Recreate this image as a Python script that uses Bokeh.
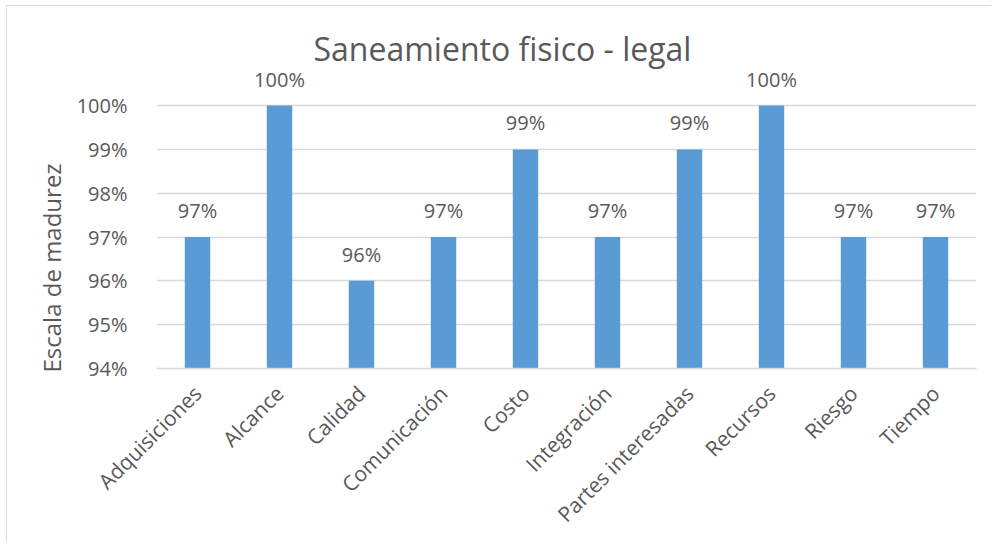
import math
from bokeh.plotting import figure
from bokeh.models import ColumnDataSource, FixedTicker, NumeralTickFormatter, Range1d, Title
from bokeh.core.properties import value
from bokeh.embed import file_html
from bokeh.resources import INLINE

categories = ["Adquisiciones", "Alcance", "Calidad", "Comunicación", "Costo",
              "Integración", "Partes interesadas", "Recursos", "Riesgo", "Tiempo"]
values = [0.97, 1.00, 0.96, 0.97, 0.99, 0.97, 0.99, 1.00, 0.97, 0.97]
y_ticks = [0.94, 0.95, 0.96, 0.97, 0.98, 0.99, 1.00]
title_text = "Saneamiento fisico - legal"
y_label = "Escala de madurez"

FONT = "Open Sans"
TXT = "#595959"
GRID = "#D9D9D9"
BAR = "#5B9BD5"

src = ColumnDataSource(dict(cat=categories, val=values,
                            lbl=[f"{v:.0%}" for v in values]))

p = figure(x_range=categories, y_range=Range1d(0.94, 1.008),
           width=985, height=537, output_backend="svg", toolbar_location=None,
           min_border_left=149, min_border_right=16, min_border_top=64, min_border_bottom=175)
p.title = None
p.add_layout(Title(text=title_text, align="left", offset=157, text_font=FONT,
                   text_font_size="32px", text_color=TXT, text_font_style="normal",
                   standoff=2), "above")
p.styles = {"border-top": "1px solid #D9D9D9", "border-left": "1px solid #D9D9D9",
            "margin-left": "6px", "margin-top": "5px"}
p.outline_line_color = None

p.vbar(x="cat", top="val", bottom=0.94, width=0.31, source=src, color=BAR, line_color=None)
p.text(x="cat", y="val", text="lbl", source=src, text_align="center", text_baseline="bottom",
       y_offset=-13, text_font=value(FONT), text_font_size="20px", text_color=TXT)

p.yaxis.ticker = FixedTicker(ticks=y_ticks)
p.yaxis.formatter = NumeralTickFormatter(format="0%")
p.yaxis.axis_line_color = None
p.yaxis.major_tick_line_color = None
p.yaxis.minor_tick_line_color = None
p.yaxis.major_label_standoff = 23
p.yaxis.major_label_text_font_size = "20px"

p.add_layout(Title(text=y_label, align="left", offset=-4, text_font=FONT,
                   text_font_size="24px", text_color=TXT, text_font_style="normal",
                   standoff=12), "left")

p.xaxis.axis_line_color = GRID
p.xaxis.axis_line_width = 1.5
p.xaxis.major_tick_line_color = None
p.xaxis.major_label_orientation = math.pi / 4
p.xaxis.major_label_standoff = 15
p.xaxis.major_label_text_font_size = "21px"

for ax in (p.xaxis, p.yaxis):
    ax.major_label_text_font = FONT
    ax.major_label_text_color = TXT

p.xgrid.grid_line_color = None
p.ygrid.grid_line_color = GRID
p.ygrid.grid_line_width = 1.5

open("out.html", "w").write(file_html(p, INLINE))
